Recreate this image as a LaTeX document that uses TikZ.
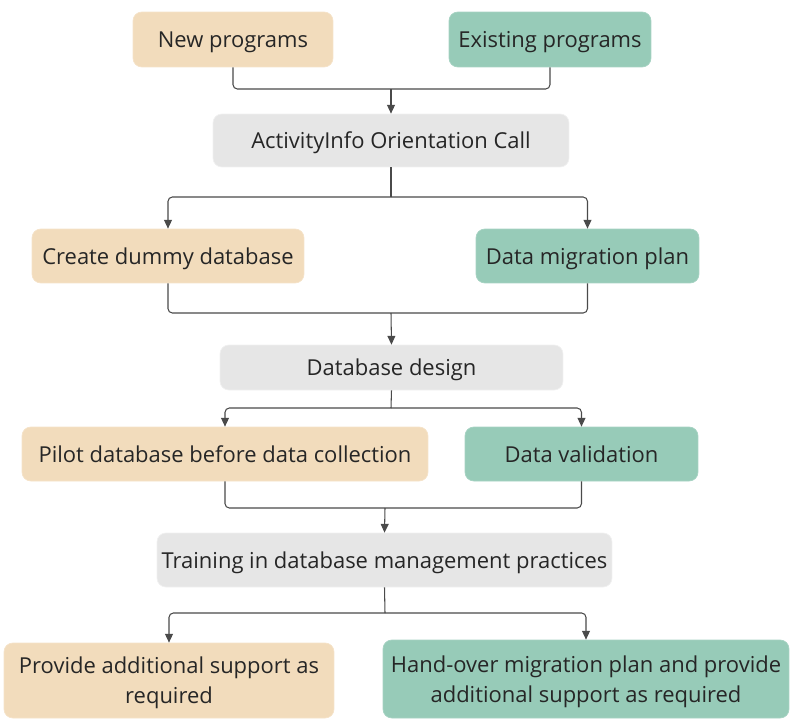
\documentclass[tikz,border=0pt]{standalone}
\usepackage{fontspec}
\setmainfont{Open Sans}
\usepackage{xcolor}
\usepackage{tikz}
\usetikzlibrary{arrows.meta}
\definecolor{obeige}{HTML}{F2DCBC}
\definecolor{oteal}{HTML}{97CBB8}
\definecolor{ogrey}{HTML}{E6E6E6}
\definecolor{oline}{HTML}{4A4A4A}
\tikzset{
  box/.style={rounded corners=5pt, align=center, inner sep=2pt, text depth=0pt,
              font=\fontsize{12.5}{17}\selectfont, text=black!85},
  newbox/.style={box, fill=obeige, draw=obeige!80!white},
  oldbox/.style={box, fill=oteal, draw=oteal!85!white},
  midbox/.style={box, fill=ogrey, draw=ogrey!60!white},
  conn/.style={draw=oline, line width=0.6pt, rounded corners=2.5pt},
  arr/.style={conn, -{Triangle[length=5pt, width=4.5pt]}},
}
\begin{document}
\begin{tikzpicture}[x=0.02cm, y=-0.02cm]
\useasboundingbox (0,0) rectangle (791,720);
% boxes
\node[newbox, minimum width=4cm, minimum height=1.1cm] (newp) at (233,39.5) {New programs};
\node[oldbox, minimum width=4.04cm, minimum height=1.1cm] (exist) at (550,39.5) {Existing programs};
\node[midbox, minimum width=7.12cm, minimum height=1.06cm] (orient) at (391,140.5) {ActivityInfo Orientation Call};
\node[newbox, minimum width=5.44cm, minimum height=1.08cm] (dummy) at (168,256) {Create dummy database};
\node[oldbox, minimum width=4.46cm, minimum height=1.08cm] (migr) at (587.5,256) {Data migration plan};
\node[midbox, minimum width=6.86cm, minimum height=0.9cm] (design) at (391.5,367.5) {Database design};
\node[newbox, minimum width=8.12cm, minimum height=1.08cm] (pilot) at (225,454) {Pilot database before data collection};
\node[oldbox, minimum width=4.66cm, minimum height=1.08cm] (valid) at (581.5,454) {Data validation};
\node[midbox, minimum width=9.1cm, minimum height=1.08cm] (train) at (384.5,560) {Training in database management practices};
\node[newbox, minimum width=6.6cm, minimum height=1.5cm] (support) at (169,680.5) {Provide additional support as\\required};
\node[oldbox, minimum width=8.12cm, minimum height=1.56cm] (handover) at (586,679) {Hand-over migration plan and provide\\additional support as required};
% junctions
\coordinate (j1) at (391,89);
\coordinate (j2) at (391,197);
\coordinate (j3) at (391,313);
\coordinate (j4) at (391,408);
\coordinate (j5) at (385,508);
\coordinate (j6) at (385,613);
% connectors
\draw[conn] (newp.south) |- (j1) -| (exist.south);
\draw[arr] (j1) -- (orient.north);
\draw[conn] (orient.south) -- (j2);
\draw[arr] (j2) -| (dummy.north);
\draw[arr] (j2) -| (migr.north);
\draw[conn] (dummy.south) |- (j3) -| (migr.south);
\draw[arr] (j3) -- (design.north);
\draw[conn] (design.south) -- (j4);
\draw[arr] (j4) -| (pilot.north);
\draw[arr] (j4) -| (valid.north);
\draw[conn] (pilot.south) |- (j5) -| (valid.south);
\draw[arr] (j5) -- (train.north);
\draw[conn] (train.south) -- (j6);
\draw[arr] (j6) -| (support.north);
\draw[arr] (j6) -| (handover.north);
\end{tikzpicture}
\end{document}
